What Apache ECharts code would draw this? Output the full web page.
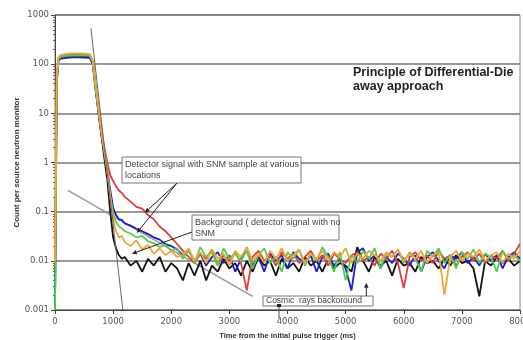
<!DOCTYPE html>
<html>
<head>
<meta charset="utf-8">
<script src="https://cdn.jsdelivr.net/npm/echarts@6/dist/echarts.min.js"></script>
<style>
html, body { margin: 0; padding: 0; background: #fff; }
#chart { width: 523px; height: 340px; }
</style>
</head>
<body>
<div id="chart"></div>
<script>
// time from the initial pulse trigger (ms)
const times = [
	0, 30, 60, 100, 200, 300, 400, 500, 600, 650,
	700, 750, 800, 850, 900, 950, 1000, 1050, 1100, 1150,
	1200, 1300, 1400, 1500, 1600, 1700, 1800, 1900, 2000, 2100,
	2200, 2300, 2400, 2500, 2600, 2700, 2800, 2900, 3000, 3100,
	3200, 3300, 3400, 3500, 3600, 3700, 3800, 3900, 4000, 4100,
	4200, 4300, 4400, 4500, 4600, 4700, 4800, 4900, 5000, 5100,
	5200, 5300, 5400, 5500, 5600, 5700, 5800, 5900, 6000, 6100,
	6200, 6300, 6400, 6500, 6600, 6700, 6800, 6900, 7000, 7100,
	7200, 7300, 7400, 7500, 7600, 7700, 7800, 7900, 8000
]

// count per source neutron monitor, one list per detector run
const blackCounts = [
	0.001, 45, 130, 140, 145, 146, 146, 145, 143, 105,
	30, 10, 3.5, 1.2, 0.45, 0.1, 0.03, 0.018, 0.013, 0.011,
	0.012, 0.008, 0.010, 0.006, 0.011, 0.008, 0.012, 0.006, 0.009, 0.007,
	0.004, 0.009, 0.005, 0.010, 0.004, 0.008, 0.006, 0.011, 0.007, 0.009,
	0.005, 0.010, 0.006, 0.012, 0.008, 0.010, 0.005, 0.011, 0.007, 0.009,
	0.006, 0.012, 0.008, 0.010, 0.006, 0.011, 0.007, 0.009, 0.008, 0.006,
	0.019, 0.010, 0.006, 0.012, 0.008, 0.010, 0.005, 0.011, 0.008, 0.009,
	0.006, 0.012, 0.009, 0.010, 0.007, 0.011, 0.008, 0.013, 0.009, 0.010,
	0.007, 0.0019, 0.010, 0.008, 0.012, 0.009, 0.011, 0.008, 0.010
]
const blueCounts = [
	0.001, 40, 120, 130, 135, 137, 137, 136, 134, 100,
	30, 10, 3.5, 1.5, 0.7, 0.28, 0.12, 0.085, 0.07, 0.068,
	0.058, 0.052, 0.045, 0.04, 0.035, 0.03, 0.027, 0.022, 0.02, 0.017,
	0.013, 0.016, 0.010, 0.014, 0.008, 0.012, 0.015, 0.009, 0.013, 0.006,
	0.011, 0.016, 0.008, 0.012, 0.006, 0.014, 0.010, 0.013, 0.007, 0.015,
	0.011, 0.009, 0.013, 0.006, 0.012, 0.014, 0.008, 0.011, 0.007, 0.0025,
	0.015, 0.018, 0.010, 0.013, 0.007, 0.012, 0.009, 0.014, 0.011, 0.008,
	0.013, 0.006, 0.012, 0.015, 0.010, 0.007, 0.013, 0.011, 0.015, 0.009,
	0.012, 0.008, 0.014, 0.010, 0.013, 0.007, 0.012, 0.015, 0.011
]
const redCounts = [
	0.008, 50, 135, 150, 155, 157, 157, 156, 154, 115,
	35, 12, 4.5, 2, 1.0, 0.55, 0.42, 0.33, 0.27, 0.24,
	0.2, 0.16, 0.125, 0.115, 0.085, 0.07, 0.05, 0.04, 0.03, 0.022,
	0.016, 0.012, 0.009, 0.014, 0.011, 0.017, 0.008, 0.013, 0.010, 0.015,
	0.009, 0.0025, 0.012, 0.016, 0.010, 0.013, 0.008, 0.015, 0.011, 0.014,
	0.009, 0.012, 0.016, 0.010, 0.013, 0.008, 0.014, 0.011, 0.009, 0.013,
	0.015, 0.010, 0.012, 0.008, 0.014, 0.011, 0.016, 0.009, 0.0028, 0.012,
	0.015, 0.010, 0.013, 0.009, 0.016, 0.011, 0.013, 0.008, 0.012, 0.015,
	0.010, 0.014, 0.009, 0.013, 0.011, 0.016, 0.010, 0.014, 0.022
]
const greenCounts = [
	0.001, 45, 130, 142, 148, 150, 150, 149, 147, 110,
	32, 11, 4, 1.6, 0.65, 0.22, 0.09, 0.062, 0.05, 0.046,
	0.04, 0.036, 0.03, 0.032, 0.025, 0.023, 0.019, 0.021, 0.016, 0.018,
	0.011, 0.017, 0.009, 0.019, 0.012, 0.015, 0.008, 0.018, 0.011, 0.014,
	0.010, 0.016, 0.007, 0.013, 0.018, 0.009, 0.012, 0.006, 0.015, 0.011,
	0.017, 0.008, 0.014, 0.010, 0.019, 0.012, 0.006, 0.015, 0.004, 0.013,
	0.009, 0.016, 0.011, 0.018, 0.007, 0.014, 0.012, 0.017, 0.009, 0.015,
	0.011, 0.006, 0.016, 0.012, 0.018, 0.009, 0.013, 0.007, 0.015, 0.011,
	0.017, 0.009, 0.014, 0.012, 0.006, 0.016, 0.011, 0.013, 0.010
]
const orangeCounts = [
	0.01, 60, 140, 155, 162, 165, 165, 163, 160, 120,
	35, 12, 4, 1.8, 0.7, 0.2, 0.07, 0.04, 0.03, 0.032,
	0.024, 0.02, 0.026, 0.017, 0.021, 0.014, 0.018, 0.013, 0.016, 0.012,
	0.013, 0.018, 0.010, 0.015, 0.009, 0.017, 0.011, 0.014, 0.008, 0.016,
	0.012, 0.019, 0.010, 0.014, 0.009, 0.016, 0.011, 0.018, 0.010, 0.013,
	0.017, 0.009, 0.014, 0.011, 0.016, 0.010, 0.015, 0.012, 0.018, 0.009,
	0.014, 0.011, 0.016, 0.013, 0.010, 0.015, 0.012, 0.017, 0.010, 0.014,
	0.011, 0.016, 0.009, 0.013, 0.015, 0.002, 0.012, 0.016, 0.010, 0.014,
	0.012, 0.017, 0.010, 0.013, 0.015, 0.009, 0.014, 0.011, 0.016
]

// straight guide lines drawn on the plot
const dieAwayLine = [[618, 540], [1167, 0.001]]
const cosmicLine = [[223, 0.27], [3400, 0.0019]]

// annotation arrow tips (data coords)
const detectorTips = [[1545, 0.095], [1408, 0.037]]
const backgroundTip = [1322, 0.0139]
const cosmicTip = [5356, 0.0036]

const yTicks = ["1000", "100", "10", "1", "0.1", "0.01", "0.001"]

function lineSeries(name, counts, color){
	return {
		name: name,
		type: "line",
		data: times.map((t, i) => [t, counts[i]]),
		showSymbol: false,
		symbol: "none",
		lineStyle: { color: color, width: 1.8 },
		z: 3
	}
}

let myChart = echarts.init(document.getElementById("chart"))
let option = {
	animation: false,
	grid: {
		left: 55, right: 3, top: 15, bottom: 30,
		containLabel: false, outerBoundsMode: "none",
		show: true, borderColor: "#888", borderWidth: 1
	},
	xAxis: {
		type: "value",
		min: 0, max: 8000, interval: 1000,
		name: "Time from the initial pulse trigger (ms)",
		nameLocation: "middle",
		nameGap: 22,
		nameMoveOverlap: false,
		nameTextStyle: { fontSize: 7.5, fontWeight: "bold", color: "#333", fontFamily: "Liberation Sans" },
		axisLine: { lineStyle: { color: "#444" } },
		axisTick: { lineStyle: { color: "#444" }, length: 4 },
		axisLabel: { fontSize: 8.5, color: "#555", margin: 7, fontFamily: "DejaVu Sans", formatter: (v) => String(v) },
		splitLine: { show: false }
	},
	yAxis: {
		type: "log",
		logBase: 10,
		min: 0.001, max: 1000,
		name: "Count per source neutron monitor",
		nameLocation: "middle",
		nameGap: 34,
		nameMoveOverlap: false,
		nameTextStyle: { fontSize: 8, fontWeight: "bold", color: "#333", fontFamily: "Liberation Sans" },
		axisLine: { show: true, lineStyle: { color: "#444" } },
		axisTick: { show: true, length: 4, lineStyle: { color: "#444" } },
		minorTick: { show: true, splitNumber: 9, length: 2, lineStyle: { color: "#666" } },
		axisLabel: {
			fontSize: 8.5, color: "#555", margin: 6, fontFamily: "DejaVu Sans",
			formatter: (v) => yTicks[Math.round(3 - Math.log10(v))]
		},
		splitLine: { show: true, lineStyle: { color: "#777", width: 1.5 } }
	},
	series: [
		{
			type: "line", data: dieAwayLine, symbol: "none",
			lineStyle: { color: "#666", width: 1 }, z: 4
		},
		{
			type: "line", data: cosmicLine, symbol: "none",
			lineStyle: { color: "#999", width: 1.5 }, z: 2
		},
		lineSeries("black", blackCounts, "#111111"),
		lineSeries("blue", blueCounts, "#1c1cd0"),
		lineSeries("red", redCounts, "#e23b3b"),
		lineSeries("green", greenCounts, "#4fd24a"),
		lineSeries("orange", orangeCounts, "#f6a335")
	]
}
myChart.setOption(option)

// annotations: boxes in pixels, arrow tips from data
const px = (p) => myChart.convertToPixel({ gridIndex: 0 }, p)
const boxStyle = { fill: "#fff", stroke: "#777", lineWidth: 1 }
const txt = { fontSize: 9, fontFamily: "Liberation Sans", fill: "#444" }

function arrow(from, to){
	const dx = to[0] - from[0], dy = to[1] - from[1]
	const len = Math.sqrt(dx * dx + dy * dy)
	const ux = dx / len, uy = dy / len
	const s = 5, w = 2.2
	return [
		{ type: "line", shape: { x1: from[0], y1: from[1], x2: to[0] - ux * s, y2: to[1] - uy * s },
			style: { stroke: "#222", lineWidth: 1 }, z: 20 },
		{ type: "polygon", shape: { points: [
			[to[0], to[1]],
			[to[0] - ux * s - uy * w, to[1] - uy * s + ux * w],
			[to[0] - ux * s + uy * w, to[1] - uy * s - ux * w]
		] }, style: { fill: "#222" }, z: 20 }
	]
}

let elements = [
	// cut off caption line at the very top
	{ type: "text", left: 28, top: -20, z: 30,
		style: { text: "the die-away decay time and the signal magnitude", fontSize: 20, fontFamily: "Liberation Serif", fill: "#111" } },
	{ type: "text", left: 353, top: 66, z: 30,
		style: { text: "Principle of Differential-Die\naway approach", fontSize: 12.5, fontWeight: "bold",
			fontFamily: "Liberation Sans", fill: "#222", lineHeight: 14 } },
	{ type: "rect", shape: { x: 122, y: 157, width: 179, height: 26 }, style: boxStyle, z: 10 },
	{ type: "text", left: 125, top: 159, z: 11,
		style: Object.assign({ text: "Detector signal with SNM sample at various\nlocations", lineHeight: 11 }, txt) },
	{ type: "rect", shape: { x: 192, y: 215, width: 147, height: 25 }, style: boxStyle, z: 10 },
	{ type: "text", left: 195, top: 217, z: 11,
		style: Object.assign({ text: "Background ( detector signal with no\nSNM", lineHeight: 11 }, txt) },
	{ type: "rect", shape: { x: 263, y: 296, width: 110, height: 10 }, style: boxStyle, z: 10 },
	{ type: "text", left: 266, top: 296, z: 11,
		style: Object.assign({ text: "Cosmic  rays backoround" }, txt, { fontSize: 8.5 }) },
	{ type: "line", shape: { x1: 279, y1: 305, x2: 279, y2: 318 }, style: { stroke: "#555", lineWidth: 1 }, z: 20 },
	{ type: "rect", shape: { x: 277, y: 304, width: 4, height: 3 }, style: { fill: "#222" }, z: 21 }
]
detectorTips.forEach(tip => { elements = elements.concat(arrow([177, 183], px(tip))) })
elements = elements.concat(arrow([192, 232], px(backgroundTip)))
const ct = px(cosmicTip)
elements = elements.concat(arrow([ct[0], 296], ct))

myChart.setOption({ graphic: { elements: elements } })
</script>
</body>
</html>
